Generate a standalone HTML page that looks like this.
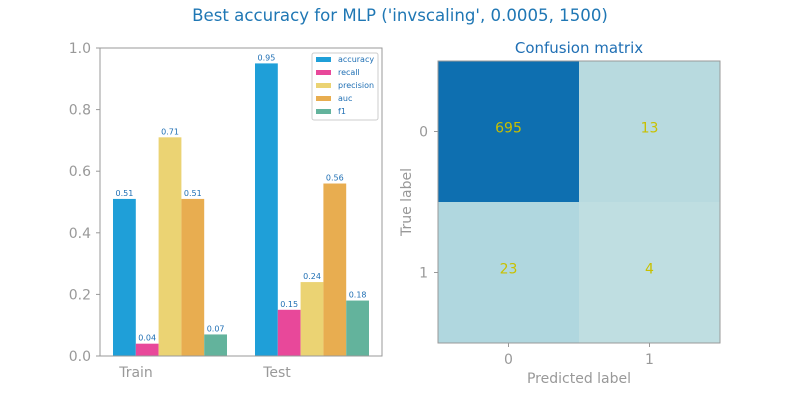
<!DOCTYPE html>
<html><head><meta charset="utf-8"><style>
body{margin:0;background:#fff;}
svg text{font-family:"DejaVu Sans","Liberation Sans",sans-serif;}
</style></head><body>
<svg width="800" height="400" xmlns="http://www.w3.org/2000/svg" id="chart">
<text x="400" y="21" text-anchor="middle" font-size="16.6" fill="#1f77b4">Best accuracy for MLP ('invscaling', 0.0005, 1500)</text>
<g id="bars"></g>
<g id="cm"></g>
</svg>
<script>
const groups = ["Train","Test"];
const metrics = ["accuracy","recall","precision","auc","f1"];
const trainVals = [0.51,0.04,0.71,0.51,0.07];
const testVals = [0.95,0.15,0.24,0.56,0.18];
const yTicks = [0,0.2,0.4,0.6,0.8,1.0];
const cmLabels = ["0","1"];
const cmVals = [[695,13],[23,4]];

const NS="http://www.w3.org/2000/svg";
function mk(tag,attrs,parent,text){const e=document.createElementNS(NS,tag);for(const k in attrs)e.setAttribute(k,attrs[k]);if(text!==undefined)e.textContent=text;parent.appendChild(e);return e;}
const colors=["#1f9fd8","#e8489a","#ebd373","#e8ad50","#63b39c"];
const B=document.getElementById("bars");
const L=100,R=382,T=48,Bot=356;
const ys=v=>Bot-v*(Bot-T);
const groupStart=[113,255], bw=22.8;
const tickLabelX=[136,277];
const all=[trainVals,testVals];
yTicks.forEach(t=>{
  const l=mk("line",{x1:L-4,x2:L,y1:ys(t),y2:ys(t),stroke:"#999"},B);
  
  
  const tx=mk("text",{x:L-9,y:ys(t)+5,"text-anchor":"end","font-size":14,fill:"#999"},B,t.toFixed(1));
  
  
});
all.forEach((vals,g)=>{
  vals.forEach((v,i)=>{
    const x=groupStart[g]+i*bw;
    const r=mk("rect",{x:x,y:ys(v),width:bw,height:Bot-ys(v),fill:colors[i]},B);
    
    
    const t=mk("text",{x:x+bw/2,y:ys(v)-3,"text-anchor":"middle","font-size":8,fill:"#1f6fb4"},B,v.toFixed(2));
    
    
  });
  const gl=mk("text",{x:tickLabelX[g],y:377,"text-anchor":"middle","font-size":14,fill:"#999"},B,groups[g]);
  
  
});
const fr=mk("rect",{x:L,y:T,width:R-L,height:Bot-T,fill:"none",stroke:"#999"},B);


const lg=mk("g",{},B);


mk("rect",{x:312,y:53,width:66,height:67,rx:2,fill:"#fff",stroke:"#ccc"},lg);
metrics.forEach((m,i)=>{
  const y=59+i*13;
  const s=mk("rect",{x:316,y:y-2,width:15,height:5,fill:colors[i]},lg);
  
  
  const t=mk("text",{x:338,y:y+3,"font-size":8,fill:"#1f6fb4"},lg,m);
  
  
});
const C=document.getElementById("cm");
const cx=438,cy=61,cs=141;
const cellColors=[["#0e6fb0","#b8dadf"],["#b0d7df","#bfdee1"]];
const ct=mk("text",{x:579,y:53,"text-anchor":"middle","font-size":15,fill:"#1f6fb4"},C,"Confusion matrix");


cmVals.forEach((row,i)=>row.forEach((v,j)=>{
  const r=mk("rect",{x:cx+j*cs,y:cy+i*cs,width:cs,height:cs,fill:cellColors[i][j]},C);
  
  
  const t=mk("text",{x:cx+j*cs+cs/2,y:cy+i*cs+cs/2+1,"text-anchor":"middle","font-size":14,fill:"#c8c000"},C,String(v));
  
  
}));
const cf=mk("rect",{x:cx,y:cy,width:2*cs,height:2*cs,fill:"none",stroke:"#999"},C);


cmLabels.forEach((l,i)=>{
  const c=cx+i*cs+cs/2;
  mk("line",{x1:cx-4,x2:cx,y1:cy+i*cs+cs/2,y2:cy+i*cs+cs/2,stroke:"#999"},C);
  const ty=mk("text",{x:cx-10,y:cy+i*cs+cs/2+5,"text-anchor":"end","font-size":14,fill:"#999"},C,l);
  
  
  mk("line",{x1:c,x2:c,y1:cy+2*cs,y2:cy+2*cs+4,stroke:"#999"},C);
  const tx=mk("text",{x:c,y:364,"text-anchor":"middle","font-size":14,fill:"#999"},C,l);
  
  
});
const xl=mk("text",{x:579,y:383,"text-anchor":"middle","font-size":14,fill:"#999"},C,"Predicted label");


const yl=mk("text",{x:411,y:202,"text-anchor":"middle","font-size":14,fill:"#999",transform:"rotate(-90 411 202)"},C,"True label");


</script>
</body></html>
